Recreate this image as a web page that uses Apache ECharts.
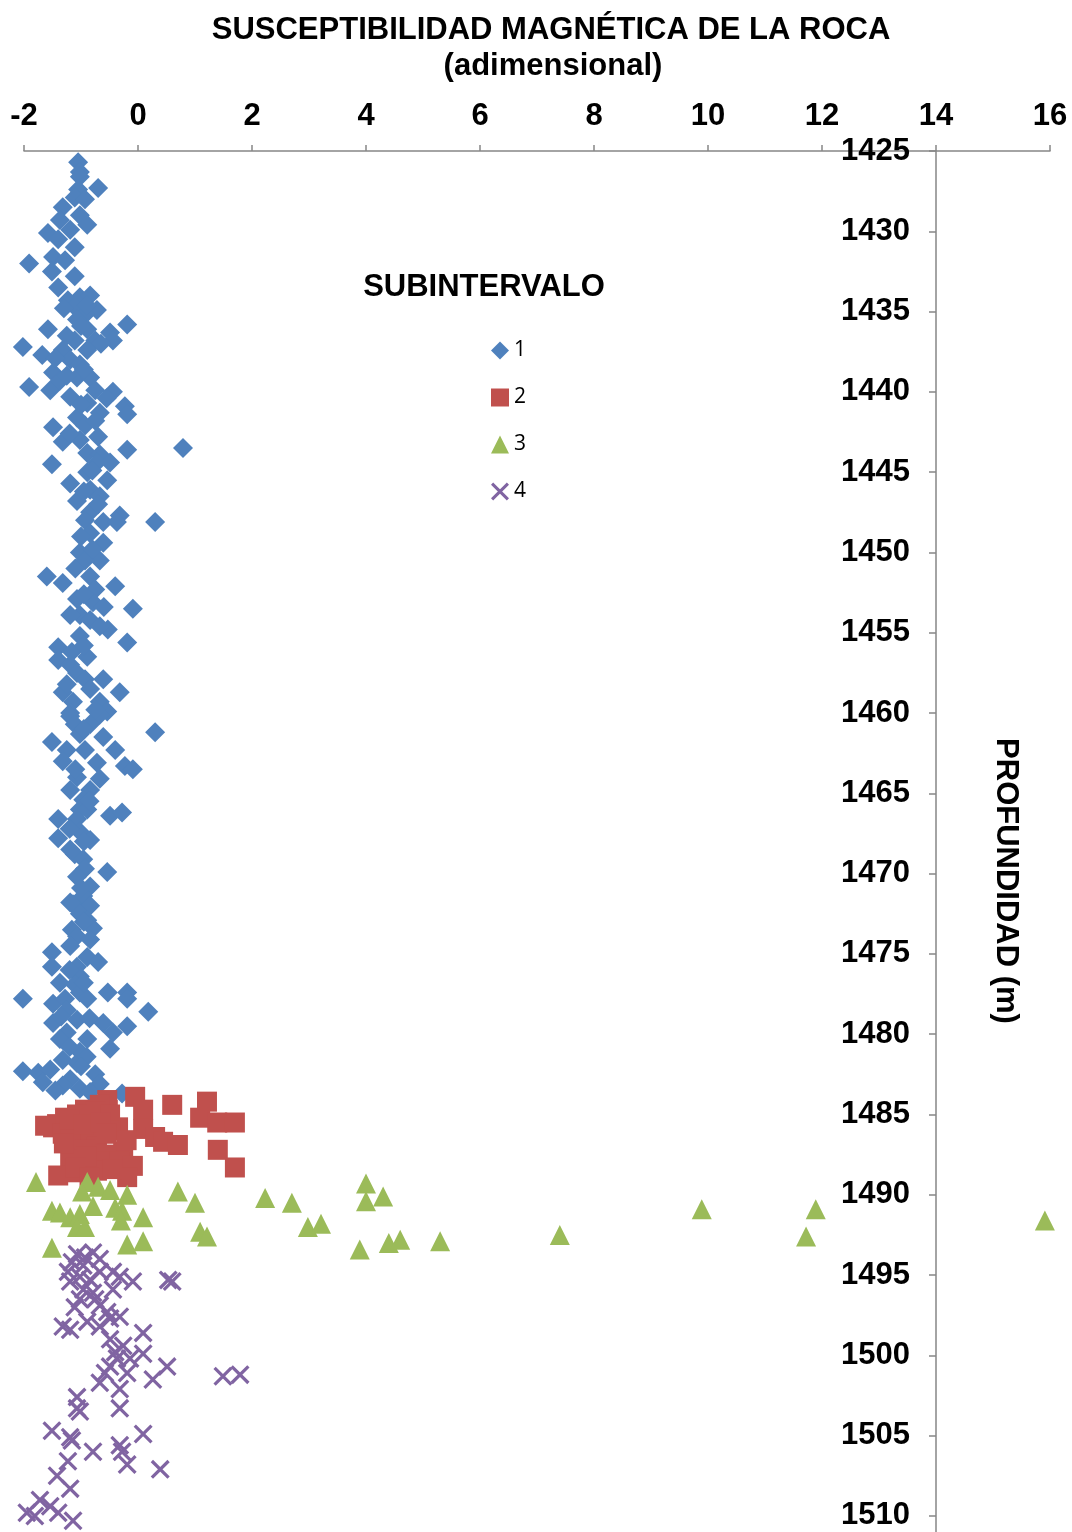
<!DOCTYPE html>
<html>
<head>
<meta charset="utf-8">
<script src="https://cdn.jsdelivr.net/npm/echarts@6/dist/echarts.min.js"></script>
<style>
html,body{margin:0;padding:0;background:#fff;}
#chart{width:1072px;height:1532px;}
</style>
</head>
<body>
<div id="chart"></div>
<script>
// ---- DATA ----
const titleText = 'SUSCEPTIBILIDAD MAGNÉTICA DE LA ROCA';
const subtitleText = '(adimensional)';
const legendTitle = 'SUBINTERVALO';
const yAxisTitle = 'PROFUNDIDAD (m)';
const seriesNames = ['1', '2', '3', '4'];

// [susceptibilidad, profundidad]
const sub1 = [
[-1.05,1425.7],[-1.02,1426.3],[-1.02,1426.6],[-0.70,1427.3],[-1.05,1427.4],[-1.11,1427.9],[-0.93,1428.0],
[-1.32,1428.5],[-1.02,1429.0],[-0.89,1429.6],[-1.37,1429.3],[-1.19,1429.9],[-1.58,1430.1],[-1.40,1430.5],
[-1.11,1431.0],[-1.49,1431.6],[-1.28,1431.8],[-1.91,1432.0],[-1.51,1432.5],[-1.11,1432.8],[-1.40,1433.5],
[-1.02,1434.1],[-0.84,1434.0],[-1.23,1434.3],[-1.11,1434.7],[-0.72,1434.9],[-0.93,1435.2],[-0.19,1435.8],
[-1.58,1436.1],[-1.07,1435.5],[-0.89,1436.1],[-0.49,1436.3],[-0.75,1436.8],[-1.11,1436.8],[-0.44,1436.8],
[-2.02,1437.2],[-1.68,1437.7],[-1.32,1437.4],[-0.89,1437.4],[-1.19,1438.0],[-1.02,1438.3],[-1.49,1438.8],
[-1.91,1439.7],[-1.54,1439.9],[-1.07,1439.1],[-0.84,1439.1],[-1.37,1439.3],[-0.75,1439.9],[-1.19,1440.3],
[-0.89,1440.7],[-0.44,1440.0],[-0.23,1440.9],[-0.19,1441.4],[-0.67,1441.3],[-1.07,1441.6],[-0.93,1442.1],
[-1.49,1442.2],[-1.32,1443.1],[-0.70,1442.8],[-1.02,1443.0],[-0.89,1443.8],[-0.19,1443.6],[0.79,1443.5],
[-0.67,1443.9],[-1.51,1444.5],[-1.19,1445.7],[-0.72,1444.4],[-0.49,1444.4],[-0.54,1445.5],[-0.89,1445.0],
[-0.84,1446.1],[-1.07,1446.8],[-0.67,1446.5],[-0.84,1447.5],[-0.32,1447.7],[0.30,1448.1],[-0.61,1448.1],
[-0.37,1448.1],[-0.93,1448.0],[-0.84,1448.8],[-0.61,1449.4],[-1.02,1450.0],[-0.67,1450.5],[-0.93,1450.5],
[-1.60,1451.5],[-1.32,1451.9],[-0.84,1451.5],[-0.40,1452.1],[-0.75,1452.3],[-1.07,1452.9],[-0.79,1453.1],
[-0.09,1453.5],[-1.02,1453.9],[-1.19,1453.9],[-0.84,1454.2],[-0.53,1454.8],[-1.02,1455.2],[-0.67,1454.6],
[-0.19,1455.6],[-1.40,1455.9],[-1.16,1456.2],[-1.40,1456.7],[-0.89,1456.5],[-1.19,1457.0],[-1.07,1457.5],
[-0.61,1457.9],[-0.93,1457.9],[-0.32,1458.7],[-1.32,1458.7],[-0.84,1458.5],[-1.14,1459.3],[-0.67,1459.3],
[-1.19,1460.0],[-0.54,1459.9],[-1.19,1460.2],[-0.67,1460.1],[-1.11,1460.7],[-0.84,1460.7],[0.30,1461.2],
[-1.51,1461.8],[-1.02,1461.3],[-0.61,1461.5],[-1.25,1462.3],[-0.40,1462.3],[-0.93,1462.3],[-1.32,1463.0],
[-0.23,1463.3],[-0.09,1463.5],[-0.72,1463.1],[-1.07,1464.0],[-0.67,1464.1],[-1.19,1464.8],[-0.84,1464.8],
[-0.96,1465.4],[-1.02,1466.0],[-0.49,1466.4],[-0.28,1466.2],[-1.40,1466.6],[-1.07,1466.6],[-0.89,1466.0],
[-1.40,1467.8],[-1.02,1467.4],[-0.84,1467.9],[-1.19,1468.5],[-1.11,1468.8],[-0.96,1469.1],[-0.93,1469.7],
[-0.54,1469.9],[-1.07,1470.2],[-0.84,1470.8],[-1.19,1471.8],[-0.96,1471.4],[-1.14,1471.9],[-0.84,1472.0],
[-1.02,1472.5],[-0.89,1472.9],[-0.79,1473.4],[-1.16,1473.5],[-1.07,1473.9],[-0.84,1474.1],[-1.19,1474.5],
[-1.51,1474.9],[-0.89,1475.2],[-0.70,1475.5],[-1.51,1475.8],[-1.07,1475.8],[-1.37,1476.8],[-1.02,1476.4],
[-1.11,1476.9],[-1.02,1477.4],[-2.02,1477.8],[-0.53,1477.4],[-0.19,1477.4],[-0.19,1477.8],[0.18,1478.6],
[-1.49,1478.1],[-0.89,1477.8],[-1.28,1477.8],[-1.25,1478.5],[-1.07,1479.1],[-1.49,1479.3],[-0.61,1479.3],
[-0.19,1479.5],[-0.44,1479.9],[-1.25,1479.9],[-0.89,1480.3],[-1.37,1480.3],[-0.49,1480.9],[-1.02,1481.1],
[-1.32,1481.6],[-1.07,1481.8],[-2.02,1482.3],[-1.75,1482.4],[-1.54,1482.2],[-0.75,1482.5],[-1.19,1482.8],
[-1.67,1483.0],[-1.32,1483.2],[-0.67,1483.1],[-1.02,1483.4],[-0.84,1483.6],[-0.28,1483.7],
[-1.30,1434.8],[-0.90,1434.6],[-1.00,1435.9],[-1.25,1436.5],[-0.65,1437.0],[-1.45,1437.9],[-0.95,1438.6],
[-1.25,1439.0],[-0.55,1440.4],[-1.00,1440.8],[-0.75,1441.8],[-1.20,1442.6],[-0.80,1444.9],[-0.95,1446.2],
[-0.70,1447.0],[-1.00,1449.0],[-0.80,1449.8],[-1.10,1451.0],[-0.95,1452.6],[-0.60,1453.4],[-0.95,1455.8],
[-1.25,1458.2],[-0.75,1459.8],[-0.95,1461.0],[-1.10,1463.5],[-0.85,1465.5],[-1.20,1467.2],[-0.95,1468.0],
[-1.00,1470.9],[-0.95,1473.0],[-1.20,1476.0],[-0.95,1476.8],[-1.35,1478.9],[-0.85,1479.0],[-1.20,1480.8],
[-0.90,1481.4],[-1.45,1483.5],[-1.00,1482.0]
];

const sub2 = [
[-0.54,1484.1],[-0.05,1483.9],[0.60,1484.4],[1.21,1484.2],[-0.93,1484.7],[0.09,1484.7],[-0.53,1484.7],
[-0.67,1484.4],[-0.75,1484.8],[1.09,1485.2],[1.39,1485.5],[1.70,1485.5],[-1.49,1485.8],[-1.07,1485.0],
[-0.49,1485.0],[-1.28,1485.2],[-1.42,1485.6],[-1.63,1485.7],[-0.35,1485.8],[-1.32,1486.2],[-0.79,1485.6],
[-0.49,1486.0],[0.09,1485.9],[0.30,1486.4],[0.44,1486.7],[0.70,1486.9],[-1.02,1486.7],[-1.19,1486.5],
[-0.84,1486.5],[-0.72,1487.0],[-0.26,1487.3],[1.40,1487.2],[-0.93,1487.2],[-0.58,1487.5],[-1.19,1487.8],
[-0.89,1488.1],[-0.67,1487.9],[-0.32,1487.9],[-0.09,1488.2],[1.70,1488.3],[-1.40,1488.8],[-1.07,1488.6],
[-0.72,1488.5],[-0.19,1488.9],
[-1.20,1485.3],[-0.95,1485.6],[-0.65,1485.5],[-1.30,1486.8],[-0.90,1487.6],[-0.55,1486.2],[-1.10,1488.3],
[-0.85,1488.9],[-0.45,1488.4],[-0.20,1486.6]
];

const sub3 = [
[-1.79,1489.2],[-0.89,1489.2],[-0.70,1489.5],[-0.49,1489.7],[-0.19,1490.0],[-0.98,1489.8],[0.70,1489.8],
[1.00,1490.5],[-1.51,1491.0],[-1.37,1491.1],[-1.19,1491.4],[-1.02,1491.2],[-0.79,1490.7],[-0.40,1490.8],
[-0.28,1491.0],[-0.30,1491.6],[0.09,1491.4],[-1.07,1492.0],[-0.93,1492.0],[1.09,1492.3],[1.21,1492.6],
[-1.51,1493.3],[-0.19,1493.1],[0.09,1492.9],[2.23,1490.2],[2.70,1490.5],[2.98,1492.0],[3.21,1491.8],
[4.00,1489.3],[4.00,1490.4],[4.30,1490.1],[3.89,1493.4],[4.40,1493.0],[4.60,1492.8],[5.30,1492.9],
[7.40,1492.5],[9.89,1490.9],[11.89,1490.9],[11.72,1492.6],[15.91,1491.6]
];

const sub4 = [
[-1.07,1493.7],[-0.79,1493.6],[-0.93,1493.9],[-1.16,1494.2],[-0.96,1494.4],[-0.67,1494.0],[-1.23,1494.8],
[-1.02,1495.1],[-0.67,1494.8],[-0.44,1494.8],[-0.32,1495.1],[-0.09,1495.4],[0.53,1495.3],[0.60,1495.4],
[-1.19,1495.4],[-0.84,1495.3],[-0.96,1495.9],[-0.44,1495.9],[-0.79,1496.1],[-1.02,1496.5],[-0.75,1496.5],
[-0.67,1496.9],[-1.11,1497.0],[-0.54,1497.3],[-0.32,1497.6],[-0.49,1497.7],[-1.32,1498.2],[-1.19,1498.4],
[-0.89,1497.9],[-0.67,1498.2],[0.09,1498.6],[-0.49,1499.0],[-0.26,1499.4],[-0.40,1499.8],[0.09,1499.9],
[-0.14,1500.2],[-0.37,1500.2],[-0.49,1500.7],[0.51,1500.7],[1.49,1501.3],[1.79,1501.2],[0.26,1501.5],
[-0.19,1501.1],[-0.58,1501.1],[-0.67,1501.7],[-0.32,1502.1],[-1.07,1502.6],[-1.02,1503.5],[-1.07,1503.3],
[-0.32,1503.3],[-1.51,1504.7],[-1.19,1505.1],[-1.16,1505.3],[-0.79,1506.0],[-0.32,1505.6],[0.09,1504.9],
[-0.28,1506.0],[-0.19,1506.8],[0.39,1507.1],[-1.23,1506.6],[-1.42,1507.5],[-1.19,1508.3],[-1.72,1509.0],
[-1.40,1509.8],[-1.81,1510.0],[-1.14,1510.3],[-1.54,1509.4],[-1.95,1509.8]
];

// ---- STYLE ----
const colors = ['#4F81BD', '#C0504D', '#9BBB59', '#8064A2'];
const crossPath = 'path://M0,1.2L1.2,0L10,8.8L8.8,10Z M8.8,0L10,1.2L1.2,10L0,8.8Z';
const symbols = ['diamond', 'rect', 'triangle', crossPath];
const symbolSizes = [[20, 20], [20, 20], [20, 20], [19, 19]];
const FONT = '"Liberation Sans", Arial, sans-serif';
const datasets = [sub1, sub2, sub3, sub4];

const chart = echarts.init(document.getElementById('chart'), null, { renderer: 'canvas' });

const option = {
  animation: false,
  backgroundColor: '#ffffff',
  color: colors,
  grid: { left: 24, right: 22, top: 151, bottom: 0, containLabel: false },
  xAxis: {
    type: 'value', position: 'top', min: -2, max: 16, interval: 2,
    axisLine: { show: true, lineStyle: { color: '#868686', width: 1.5 } },
    axisTick: { show: true, length: 6, lineStyle: { color: '#868686', width: 1.5 } },
    axisLabel: { margin: 19, color: '#000', fontFamily: FONT, fontWeight: 'bold', fontSize: 31 },
    splitLine: { show: false }
  },
  yAxis: {
    type: 'value', position: 'left', offset: -912, inverse: true,
    min: 1425, max: 1511, interval: 5,
    axisLine: { show: true, onZero: false, lineStyle: { color: '#868686', width: 1.5 } },
    axisTick: { show: true, length: 7, lineStyle: { color: '#868686', width: 1.5 } },
    axisLabel: { margin: 26, showMaxLabel: false, color: '#000', fontFamily: FONT, fontWeight: 'bold', fontSize: 31,
      formatter: v => String(v) },
    splitLine: { show: false }
  },
  legend: {
    orient: 'vertical', left: 486, top: 335,
    itemWidth: 18, itemHeight: 18, itemGap: 26,
    data: seriesNames.map((n, i) => ({ name: n, icon: symbols[i] })),
    textStyle: { fontFamily: '"Open Sans", "Liberation Sans", sans-serif', fontSize: 21, color: '#000', padding: [0, 0, 0, 0] }
  },
  graphic: [
    { type: 'text', x: 551, y: 30,
      style: { text: titleText, font: 'bold 31px ' + FONT, fill: '#000', align: 'center', verticalAlign: 'middle', textAlign: 'center', textVerticalAlign: 'middle' } },
    { type: 'text', x: 553, y: 66,
      style: { text: subtitleText, font: 'bold 31px ' + FONT, fill: '#000', align: 'center', verticalAlign: 'middle', textAlign: 'center', textVerticalAlign: 'middle' } },
    { type: 'text', x: 484, y: 287,
      style: { text: legendTitle, font: 'bold 31px ' + FONT, fill: '#000', align: 'center', verticalAlign: 'middle', textAlign: 'center', textVerticalAlign: 'middle' } },
    { type: 'text', x: 1006, y: 881, rotation: -Math.PI / 2,
      style: { text: yAxisTitle, font: 'bold 31px ' + FONT, fill: '#000', align: 'center', verticalAlign: 'middle', textAlign: 'center', textVerticalAlign: 'middle' } }
  ],
  series: datasets.map((d, i) => ({
    name: seriesNames[i],
    type: 'scatter',
    data: d,
    symbol: symbols[i],
    symbolSize: symbolSizes[i],
    clip: false,
    itemStyle: { color: colors[i], opacity: 1 },
    emphasis: { disabled: true }
  }))
};

chart.setOption(option);
</script>
</body>
</html>
